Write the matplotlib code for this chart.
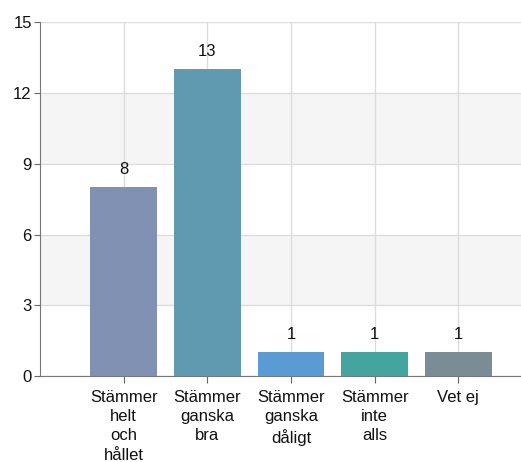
import matplotlib
matplotlib.use('Agg')
import matplotlib.pyplot as plt
import numpy as np

plt.rcParams['font.family'] = ['Liberation Sans', 'DejaVu Sans']

kategorier = ['Stämmer\nhelt\noch\nhållet', 'Stämmer\nganska\nbra', 'Stämmer\nganska\ndåligt',
              'Stämmer\ninte\nalls', 'Vet ej']
antal = [8, 13, 1, 1, 1]
farger = ['#8091b4', '#5f9ab0', '#5b9bd3', '#44a49f', '#7a8d96']
yticks = [0, 3, 6, 9, 12, 15]

fig = plt.figure(figsize=(5.21, 4.62), dpi=100)
ax = fig.add_axes([0.077, 0.186, 0.923, 0.766])

# alternerande band
for lo, hi in [(3, 6), (9, 12)]:
    ax.axhspan(lo, hi, color='#f5f5f5', zorder=0, lw=0)

x = np.arange(len(antal))
ax.bar(x, antal, width=0.8, color=farger, zorder=3)
for xi, v in zip(x, antal):
    ax.text(xi, v + 0.45, str(v), ha='center', va='bottom', fontsize=12, color='#111111', zorder=4)

ax.set_xlim(-1, 4.75)
ax.set_ylim(0, 15)
ax.set_yticks(yticks)
ax.set_xticks(x)
ax.set_xticklabels(kategorier, fontsize=12, linespacing=1.35, color='#111111')
ax.tick_params(axis='y', labelsize=12, colors='#111111', length=4, color='#666666', pad=2)
ax.tick_params(axis='x', length=5, color='#666666', pad=5)
ax.grid(True, color='#dcdcdc', lw=1, zorder=1)
ax.set_axisbelow(True)
for s in ['top', 'right']:
    ax.spines[s].set_visible(False)
for s in ['left', 'bottom']:
    ax.spines[s].set_color('#777777')

plt.savefig('out.png', dpi=100)
